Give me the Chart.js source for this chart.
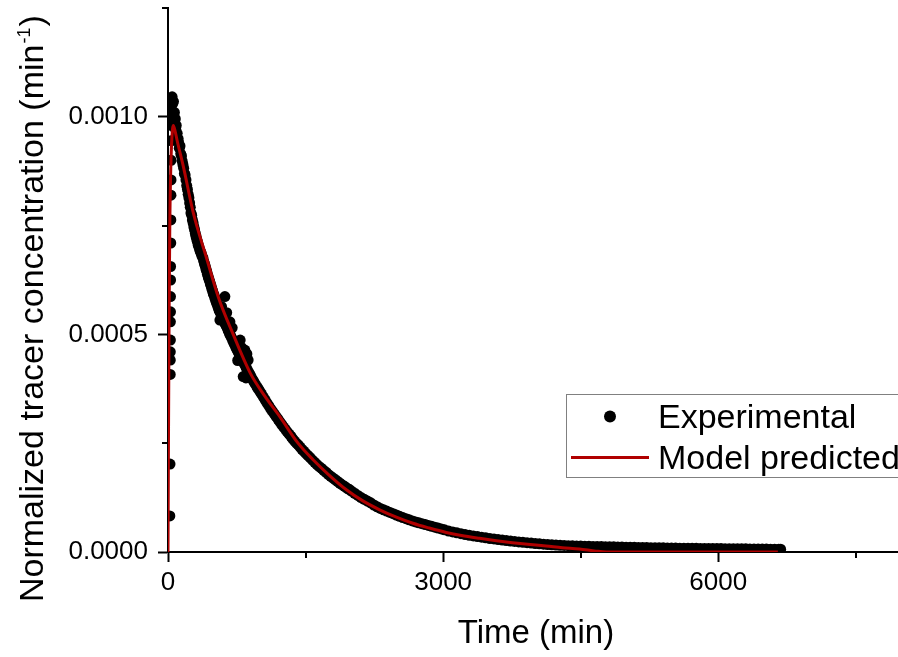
<!DOCTYPE html>
<html>
<head>
<meta charset="utf-8">
<script src="https://cdn.jsdelivr.net/npm/chart.js@4.4.1/dist/chart.umd.min.js"></script>
<style>
  html, body { margin: 0; padding: 0; background: #fff; }
  canvas { display: block; }
</style>
</head>
<body>
<canvas id="rtd" width="898" height="657"></canvas>
<script>
// axis ticks
const xTicks = [0, 3000, 6000];
const xMinor = [1500, 4500, 7500];
const yTicks = [0, 0.0005, 0.0010];
const yMinor = [0.00025, 0.00075, 0.00125];

// experimental tracer data (time in min, normalized concentration in 1/min)
const expTime = [
  20, 22, 24, 25, 25, 26, 26, 27, 27, 28, 28, 30, 31, 32, 33, 34, 35, 37,
  40, 45, 50, 55, 60, 65, 70, 75, 80, 85, 90, 95, 100, 105, 110,
  115, 123, 131, 139, 147, 155, 163, 171, 179, 187, 196, 204, 212, 220, 228, 236, 243, 250, 258, 266,
  274, 282, 290, 298, 306, 314, 322, 330, 338, 346, 354, 362, 370, 381, 390, 398, 406, 414, 422, 430,
  438, 446, 454, 462, 470, 478, 486, 494, 502, 510, 518, 526, 534, 542, 550,
  558, 566, 570, 584, 585, 596, 600, 608, 620, 622, 634, 640, 646, 658, 670, 675, 682, 694, 700, 706,
  718, 730, 742, 754, 760, 766, 778, 787, 790, 800, 802, 814, 820, 826, 838, 840, 850, 852, 860, 864,
  874, 876, 888, 900, 915, 930, 945, 960, 975, 990, 1005,
  1020, 1040, 1060, 1080, 1100, 1120, 1140, 1160, 1180, 1200, 1220, 1240, 1260, 1280, 1300, 1320, 1340, 1360, 1380, 1400,
  1420, 1440, 1460, 1480, 1500, 1525, 1550, 1575, 1600, 1625, 1650, 1675, 1700, 1725, 1750, 1775, 1800, 1825, 1850, 1875,
  1900, 1925, 1950, 1975, 2000, 2035, 2070, 2105, 2140, 2175, 2210, 2245, 2280, 2315, 2350, 2385, 2420, 2455, 2490, 2525,
  2560, 2595, 2630, 2665, 2700, 2735, 2770, 2805, 2840, 2875, 2910, 2945, 2980, 3015,
  3060, 3105, 3150, 3195, 3240, 3285, 3330, 3375, 3420, 3465, 3510, 3555, 3600, 3645, 3690, 3735, 3780, 3825, 3870, 3915,
  3960, 4005, 4050, 4095, 4140, 4185, 4230, 4275, 4320, 4365, 4410, 4455, 4500, 4545, 4590, 4635, 4680, 4725, 4770, 4815,
  4860, 4905, 4950, 4995, 5040, 5085, 5130, 5175, 5220, 5265, 5310, 5355, 5400, 5445, 5490, 5535, 5580, 5625, 5670, 5715,
  5760, 5805, 5850, 5895, 5940, 5985, 6030, 6075, 6120, 6165, 6210, 6255, 6300, 6345, 6390, 6435, 6480, 6525, 6570, 6615,
  6660, 6680];
const expConc = [
  0.83e-4, 2.02e-4, 4.08e-4, 4.41e-4, 4.60e-4, 4.87e-4, 5.29e-4, 5.52e-4, 5.87e-4, 6.25e-4, 6.56e-4, 7.10e-4, 7.63e-4, 8.20e-4, 8.55e-4, 9.00e-4, 9.45e-4, 9.80e-4,
  10.15e-4, 10.46e-4, 10.30e-4, 10.05e-4, 10.35e-4, 9.95e-4, 10.10e-4, 9.80e-4, 9.95e-4, 9.70e-4, 9.80e-4, 9.55e-4, 9.62e-4, 9.45e-4, 9.50e-4,
  9.42e-4, 9.28e-4, 9.33e-4, 9.15e-4, 9.10e-4, 8.98e-4, 8.90e-4, 8.82e-4, 8.70e-4, 8.66e-4, 8.55e-4, 8.42e-4, 8.33e-4, 8.22e-4, 8.14e-4, 8.02e-4, 7.92e-4, 7.79e-4, 7.74e-4, 7.63e-4,
  7.56e-4, 7.47e-4, 7.40e-4, 7.32e-4, 7.25e-4, 7.18e-4, 7.12e-4, 7.05e-4, 7.00e-4, 6.94e-4, 6.90e-4, 6.86e-4, 6.80e-4, 6.76e-4, 6.68e-4, 6.62e-4, 6.57e-4, 6.50e-4, 6.45e-4, 6.38e-4,
  6.33e-4, 6.27e-4, 6.22e-4, 6.16e-4, 6.11e-4, 6.05e-4, 6.00e-4, 5.94e-4, 5.90e-4, 5.84e-4, 5.80e-4, 5.74e-4, 5.70e-4, 5.65e-4, 5.60e-4,
  5.55e-4, 5.33e-4, 5.50e-4, 5.64e-4, 5.42e-4, 5.38e-4, 5.45e-4, 5.30e-4, 5.87e-4, 5.25e-4, 5.20e-4, 5.50e-4, 5.14e-4, 5.08e-4, 5.02e-4, 5.29e-4, 4.97e-4, 4.92e-4, 5.15e-4, 4.86e-4,
  4.80e-4, 4.75e-4, 4.69e-4, 4.64e-4, 4.40e-4, 4.59e-4, 4.54e-4, 4.87e-4, 4.49e-4, 4.70e-4, 4.44e-4, 4.39e-4, 4.03e-4, 4.34e-4, 4.64e-4, 4.29e-4, 4.00e-4, 4.24e-4, 4.55e-4, 4.19e-4,
  4.41e-4, 4.14e-4, 4.10e-4, 4.05e-4, 3.99e-4, 3.94e-4, 3.88e-4, 3.83e-4, 3.78e-4, 3.73e-4, 3.68e-4,
  3.63e-4, 3.56e-4, 3.49e-4, 3.42e-4, 3.36e-4, 3.29e-4, 3.23e-4, 3.17e-4, 3.11e-4, 3.05e-4, 2.99e-4, 2.93e-4, 2.87e-4, 2.82e-4, 2.76e-4, 2.71e-4, 2.66e-4, 2.60e-4, 2.55e-4, 2.50e-4,
  2.46e-4, 2.41e-4, 2.36e-4, 2.32e-4, 2.27e-4, 2.22e-4, 2.17e-4, 2.11e-4, 2.06e-4, 2.01e-4, 1.96e-4, 1.92e-4, 1.87e-4, 1.83e-4, 1.78e-4, 1.74e-4, 1.70e-4, 1.66e-4, 1.62e-4, 1.58e-4,
  1.54e-4, 1.51e-4, 1.47e-4, 1.44e-4, 1.40e-4, 1.35e-4, 1.30e-4, 1.25e-4, 1.21e-4, 1.17e-4, 1.13e-4, 1.08e-4, 1.04e-4, 1.00e-4, 0.97e-4, 0.94e-4, 0.91e-4, 0.88e-4, 0.85e-4, 0.82e-4,
  0.79e-4, 0.765e-4, 0.74e-4, 0.715e-4, 0.69e-4, 0.67e-4, 0.65e-4, 0.63e-4, 0.61e-4, 0.59e-4, 0.57e-4, 0.55e-4, 0.53e-4, 0.51e-4,
  0.48e-4, 0.46e-4, 0.44e-4, 0.42e-4, 0.40e-4, 0.385e-4, 0.37e-4, 0.355e-4, 0.34e-4, 0.325e-4, 0.31e-4, 0.30e-4, 0.285e-4, 0.275e-4, 0.262e-4, 0.252e-4, 0.242e-4, 0.232e-4, 0.222e-4, 0.213e-4,
  0.204e-4, 0.195e-4, 0.187e-4, 0.179e-4, 0.172e-4, 0.166e-4, 0.160e-4, 0.155e-4, 0.150e-4, 0.146e-4, 0.142e-4, 0.139e-4, 0.136e-4, 0.133e-4, 0.130e-4, 0.128e-4, 0.126e-4, 0.124e-4, 0.122e-4, 0.120e-4,
  0.118e-4, 0.116e-4, 0.114e-4, 0.112e-4, 0.110e-4, 0.108e-4, 0.106e-4, 0.104e-4, 0.102e-4, 0.100e-4, 0.098e-4, 0.096e-4, 0.095e-4, 0.093e-4, 0.092e-4, 0.090e-4, 0.089e-4, 0.087e-4, 0.086e-4, 0.085e-4,
  0.084e-4, 0.083e-4, 0.082e-4, 0.081e-4, 0.080e-4, 0.079e-4, 0.078e-4, 0.077e-4, 0.076e-4, 0.075e-4, 0.074e-4, 0.073e-4, 0.072e-4, 0.071e-4, 0.070e-4, 0.069e-4, 0.068e-4, 0.067e-4, 0.066e-4, 0.065e-4,
  0.064e-4, 0.063e-4];

// model curve
const modelTime = [0, 5, 12, 20, 30, 42, 58, 80, 100, 167, 276, 421, 550, 711, 900, 1050, 1219, 1418, 1582, 1750,
  1945, 2120, 2308, 2490, 2670, 2850, 3034, 3200, 3396, 3580, 3755, 3950, 4122, 4300, 4485, 4666, 4780, 5500, 6650];
const modelConc = [0, 2.5e-4, 5.5e-4, 7.6e-4, 8.8e-4, 9.5e-4, 9.8e-4, 9.65e-4, 9.45e-4, 8.86e-4, 7.79e-4, 6.75e-4, 5.85e-4, 5.0e-4, 4.1e-4, 3.6e-4, 3.11e-4, 2.5e-4, 2.12e-4, 1.78e-4,
  1.43e-4, 1.18e-4, 0.97e-4, 0.80e-4, 0.66e-4, 0.55e-4, 0.45e-4, 0.38e-4, 0.315e-4, 0.26e-4, 0.214e-4, 0.17e-4, 0.138e-4, 0.10e-4, 0.07e-4, 0.02e-4, 0, 0, 0];

const FONT = '"Liberation Sans", Arial, sans-serif';
const RED = '#b00000';

const expData = expTime.map((t, i) => ({ x: t, y: expConc[i] }));
const modelData = modelTime.map((t, i) => ({ x: t, y: modelConc[i] }));

// axis titles, minor ticks and the boxed legend
const decor = {
  id: 'decor',
  afterDraw(chart) {
    const ctx = chart.ctx;
    const a = chart.chartArea;
    const xs = chart.scales.x, ys = chart.scales.y;
    ctx.save();

    ctx.strokeStyle = '#000';
    ctx.lineWidth = 2;
    ctx.beginPath();
    xMinor.forEach(v => {
      const p = Math.round(xs.getPixelForValue(v));
      ctx.moveTo(p, a.bottom);
      ctx.lineTo(p, a.bottom + 6);
    });
    yMinor.forEach(v => {
      const p = Math.round(ys.getPixelForValue(v));
      ctx.moveTo(a.left - 6, p);
      ctx.lineTo(a.left, p);
    });
    ctx.stroke();

    ctx.fillStyle = '#000';
    ctx.textBaseline = 'alphabetic';

    // x title
    ctx.font = '33px ' + FONT;
    ctx.textAlign = 'center';
    ctx.fillText('Time (min)', 536, 643);

    // y title with superscript
    ctx.save();
    ctx.translate(43, 602);
    ctx.rotate(-Math.PI / 2);
    ctx.textAlign = 'left';
    ctx.font = '34px ' + FONT;
    const main = 'Normalized tracer concentration (min';
    ctx.fillText(main, 0, 0);
    let w = ctx.measureText(main).width;
    ctx.font = '18px ' + FONT;
    ctx.fillText('-1', w + 1, -13);
    w += ctx.measureText('-1').width + 2;
    ctx.font = '34px ' + FONT;
    ctx.fillText(')', w, 0);
    ctx.restore();

    // legend
    ctx.fillStyle = '#fff';
    ctx.fillRect(566, 394, 340, 83);
    ctx.strokeStyle = '#808080';
    ctx.lineWidth = 1;
    ctx.strokeRect(566.5, 394.5, 340, 83);
    const ds = chart.data.datasets;
    ctx.fillStyle = '#000';
    ctx.beginPath();
    ctx.arc(610, 416.5, 6, 0, Math.PI * 2);
    ctx.fill();
    ctx.strokeStyle = RED;
    ctx.lineWidth = 3;
    ctx.beginPath();
    ctx.moveTo(571, 457.5);
    ctx.lineTo(649, 457.5);
    ctx.stroke();
    ctx.fillStyle = '#000';
    ctx.font = '34px ' + FONT;
    ctx.textAlign = 'left';
    ctx.fillText(ds[1].label, 658, 428);
    ctx.fillText(ds[0].label, 658, 469);

    ctx.restore();
  }
};

new Chart(document.getElementById('rtd'), {
  type: 'scatter',
  data: {
    datasets: [{
      label: 'Model predicted',
      data: modelData,
      showLine: true,
      borderColor: RED,
      borderWidth: 3,
      pointRadius: 0,
      cubicInterpolationMode: 'monotone',
      order: 0
    }, {
      label: 'Experimental',
      data: expData,
      pointRadius: 5.5,
      pointBorderWidth: 0,
      pointBackgroundColor: '#000',
      borderColor: '#000',
      order: 1
    }]
  },
  options: {
    responsive: false,
    animation: false,
    devicePixelRatio: 1,
    layout: { autoPadding: false, padding: { top: 8, right: 0, bottom: 0, left: 0 } },
    plugins: {
      legend: { display: false },
      tooltip: { enabled: false }
    },
    scales: {
      x: {
        type: 'linear',
        min: 0,
        max: 7960,
        afterBuildTicks: s => { s.ticks = xTicks.map(v => ({ value: v })); },
        afterFit: s => { s.height = 105; s.paddingLeft = 0; s.paddingRight = 0; },
        ticks: {
          callback: v => String(v),
          font: { family: FONT, size: 26 },
          color: '#000',
          padding: 5,
          maxRotation: 0,
          autoSkip: false
        },
        grid: { drawOnChartArea: false, tickLength: 10, tickWidth: 2, tickColor: '#000' },
        border: { color: '#000', width: 2 }
      },
      y: {
        type: 'linear',
        min: 0,
        max: 0.00125,
        afterBuildTicks: s => { s.ticks = yTicks.map(v => ({ value: v })); },
        afterFit: s => { s.width = 168; s.paddingTop = 0; s.paddingBottom = 0; },
        ticks: {
          callback: v => v.toFixed(4),
          font: { family: FONT, size: 26 },
          color: '#000',
          padding: 10,
          autoSkip: false
        },
        grid: { drawOnChartArea: false, tickLength: 10, tickWidth: 2, tickColor: '#000' },
        border: { color: '#000', width: 2 }
      }
    }
  },
  plugins: [decor]
});
</script>
</body>
</html>
